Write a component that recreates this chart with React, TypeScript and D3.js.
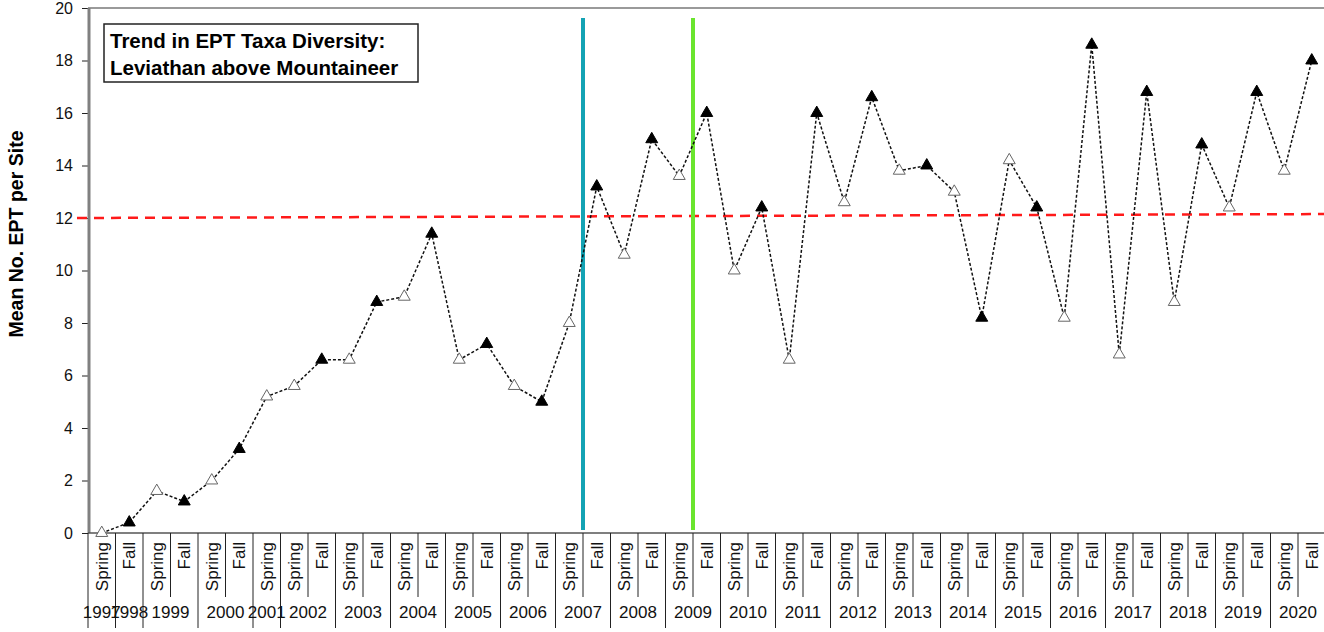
import { useRef, useEffect } from 'react'
import * as d3 from 'd3'

// one entry per sampling event, left to right
const seasons = [
  'Spring', 'Fall', 'Spring', 'Fall', 'Spring', 'Fall', 'Spring', 'Spring', 'Fall',
  'Spring', 'Fall', 'Spring', 'Fall', 'Spring', 'Fall', 'Spring', 'Fall', 'Spring', 'Fall',
  'Spring', 'Fall', 'Spring', 'Fall', 'Spring', 'Fall', 'Spring', 'Fall', 'Spring', 'Fall',
  'Spring', 'Fall', 'Spring', 'Fall', 'Spring', 'Fall', 'Spring', 'Fall', 'Spring', 'Fall',
  'Spring', 'Fall', 'Spring', 'Fall', 'Spring', 'Fall'
]
const years = [
  1997, 1998, 1999, 1999, 2000, 2000, 2001, 2002, 2002,
  2003, 2003, 2004, 2004, 2005, 2005, 2006, 2006, 2007, 2007,
  2008, 2008, 2009, 2009, 2010, 2010, 2011, 2011, 2012, 2012,
  2013, 2013, 2014, 2014, 2015, 2015, 2016, 2016, 2017, 2017,
  2018, 2018, 2019, 2019, 2020, 2020
]
const meanEPT = [
  0, 0.4, 1.6, 1.2, 2.0, 3.2, 5.2, 5.6, 6.6,
  6.6, 8.8, 9.0, 11.4, 6.6, 7.2, 5.6, 5.0, 8.0, 13.2,
  10.6, 15.0, 13.6, 16.0, 10.0, 12.4, 6.6, 16.0, 12.6, 16.6,
  13.8, 14.0, 13.0, 8.2, 14.2, 12.4, 8.2, 18.6, 6.8, 16.8,
  8.8, 14.8, 12.4, 16.8, 13.8, 18.0
]
const yTicks = [0, 2, 4, 6, 8, 10, 12, 14, 16, 18, 20]
const trendLine = [12.0, 12.15] // red dashed reference, start and end
const markers = [
  { after: 17, color: '#14a3b4' }, // between Spring and Fall 2007
  { after: 21, color: '#6ae52e' }  // between Spring and Fall 2009
]
const titleLines = ['Trend in EPT Taxa Diversity:', 'Leviathan above Mountaineer']

const App = () => {
  const ref = useRef(null)

  useEffect(() => {
    const totalWidth = 1324,
      totalHeight = 632,
      margin = { left: 88, top: 8, right: 0, bottom: 99 },
      height = totalHeight - margin.top - margin.bottom,
      bandW = 27.5,
      width = bandW * seasons.length

    const svg = d3.select(ref.current)
    svg.attr('width', totalWidth).attr('height', totalHeight)
    svg.selectAll('*').remove()

    const idx = seasons.map((d, i) => i)
    const x = d3.scaleBand<number>().domain(idx).range([0, width]).padding(0)
    const y = d3.scaleLinear().domain([0, 20]).range([height, 0])

    const plot = svg.append('g')
      .attr('transform', `translate(${margin.left}, ${margin.top})`)
      .style('font-family', 'Liberation Sans, Arial, sans-serif')

    // frame: grey top line
    plot.append('line')
      .attr('x1', 0).attr('x2', totalWidth)
      .attr('y1', 0).attr('y2', 0)
      .attr('stroke', '#9a9a9a').attr('stroke-width', 2)

    // Y AXIS
    const yAxis = d3.axisLeft(y).tickValues(yTicks).tickSize(6).tickPadding(9)
    const yg = plot.append('g').call(yAxis)
    yg.select('.domain').remove()
    yg.selectAll('text').style('font-size', '16px').attr('fill', '#111')
    yg.selectAll('line').attr('stroke', '#222')
    plot.append('line')
      .attr('x1', 1).attr('x2', 1).attr('y1', 0).attr('y2', height)
      .attr('stroke', '#808080').attr('stroke-width', 3)

    svg.append('text')
      .attr('transform', 'translate(23, 234) rotate(-90)')
      .attr('text-anchor', 'middle')
      .style('font-family', 'Liberation Sans, Arial, sans-serif')
      .style('font-weight', 'bold')
      .style('font-size', '19.5px')
      .text('Mean No. EPT per Site')

    // X AXIS (two rows: season, year)
    const xg = plot.append('g').attr('transform', `translate(0, ${height})`)
    xg.append('line')
      .attr('x1', 0).attr('x2', width).attr('y1', 0).attr('y2', 0)
      .attr('stroke', '#555').attr('stroke-width', 1.5)

    d3.range(seasons.length + 1).forEach(b => {
      const bx = b * bandW
      const tall = b === 0 || b === seasons.length || years[b] !== years[b - 1]
      xg.append('line')
        .attr('x1', bx).attr('x2', bx)
        .attr('y1', 0).attr('y2', tall ? 95 : 64)
        .attr('stroke', '#222').attr('stroke-width', 1)
    })

    xg.selectAll('.season')
      .data(idx)
      .enter()
      .append('text')
        .attr('class', 'season')
        .attr('transform', d => `translate(${x(d)! + bandW / 2 + 6}, 9) rotate(-90)`)
        .attr('text-anchor', 'end')
        .style('font-size', '17px')
        .attr('fill', '#111')
        .text(d => seasons[d])

    const yearGroups = d3.groups(idx, d => years[d])
    xg.selectAll('.year')
      .data(yearGroups)
      .enter()
      .append('text')
        .attr('class', 'year')
        .attr('x', d => (x(d[1][0])! + x(d[1][d[1].length - 1])! + bandW) / 2)
        .attr('y', 85)
        .attr('text-anchor', 'middle')
        .style('font-size', '17px')
        .attr('fill', '#111')
        .text(d => d[0])

    // REFERENCE LINES
    plot.append('line')
      .attr('x1', -11).attr('x2', totalWidth - margin.left)
      .attr('y1', y(trendLine[0])).attr('y2', y(trendLine[1]))
      .attr('stroke', '#ff1a1a').attr('stroke-width', 2.5)
      .attr('stroke-dasharray', '10,7')

    markers.forEach(m => {
      const mx = x(m.after)! + bandW
      plot.append('line')
        .attr('x1', mx).attr('x2', mx)
        .attr('y1', 10).attr('y2', height - 3)
        .attr('stroke', m.color).attr('stroke-width', 4)
    })

    // SERIES
    plot.append('path')
      .datum(idx)
      .attr('fill', 'none')
      .attr('stroke', '#111')
      .attr('stroke-width', 1.5)
      .attr('stroke-dasharray', '3,2')
      .attr('d', d3.line<number>()
        .x(d => x(d)! + bandW / 2)
        .y(d => y(meanEPT[d])))

    const tri = d3.symbol().type(d3.symbolTriangle).size(62)
    plot.selectAll('.pt')
      .data(idx)
      .enter()
      .append('path')
        .attr('class', 'pt')
        .attr('transform', d => `translate(${x(d)! + bandW / 2}, ${y(meanEPT[d])})`)
        .attr('d', tri)
        .attr('fill', d => seasons[d] === 'Fall' ? '#000' : '#fff')
        .attr('stroke', d => seasons[d] === 'Fall' ? '#000' : '#666')
        .attr('stroke-width', 1)

    // TITLE BOX
    const tb = plot.append('g').attr('transform', 'translate(16, 16)')
    tb.append('rect')
      .attr('width', 314).attr('height', 58)
      .attr('fill', '#fff').attr('stroke', '#222').attr('stroke-width', 1.5)
    tb.selectAll('text')
      .data(titleLines)
      .enter()
      .append('text')
        .attr('x', 6)
        .attr('y', (d, i) => 24 + i * 27)
        .style('font-size', '20.5px')
        .style('font-weight', 'bold')
        .text(d => d)
  }, [])

  return (
    <svg ref={ ref } style={ { position: 'absolute', left: 0, top: 0, background: '#fff' } }></svg>
  )
}

export default App
